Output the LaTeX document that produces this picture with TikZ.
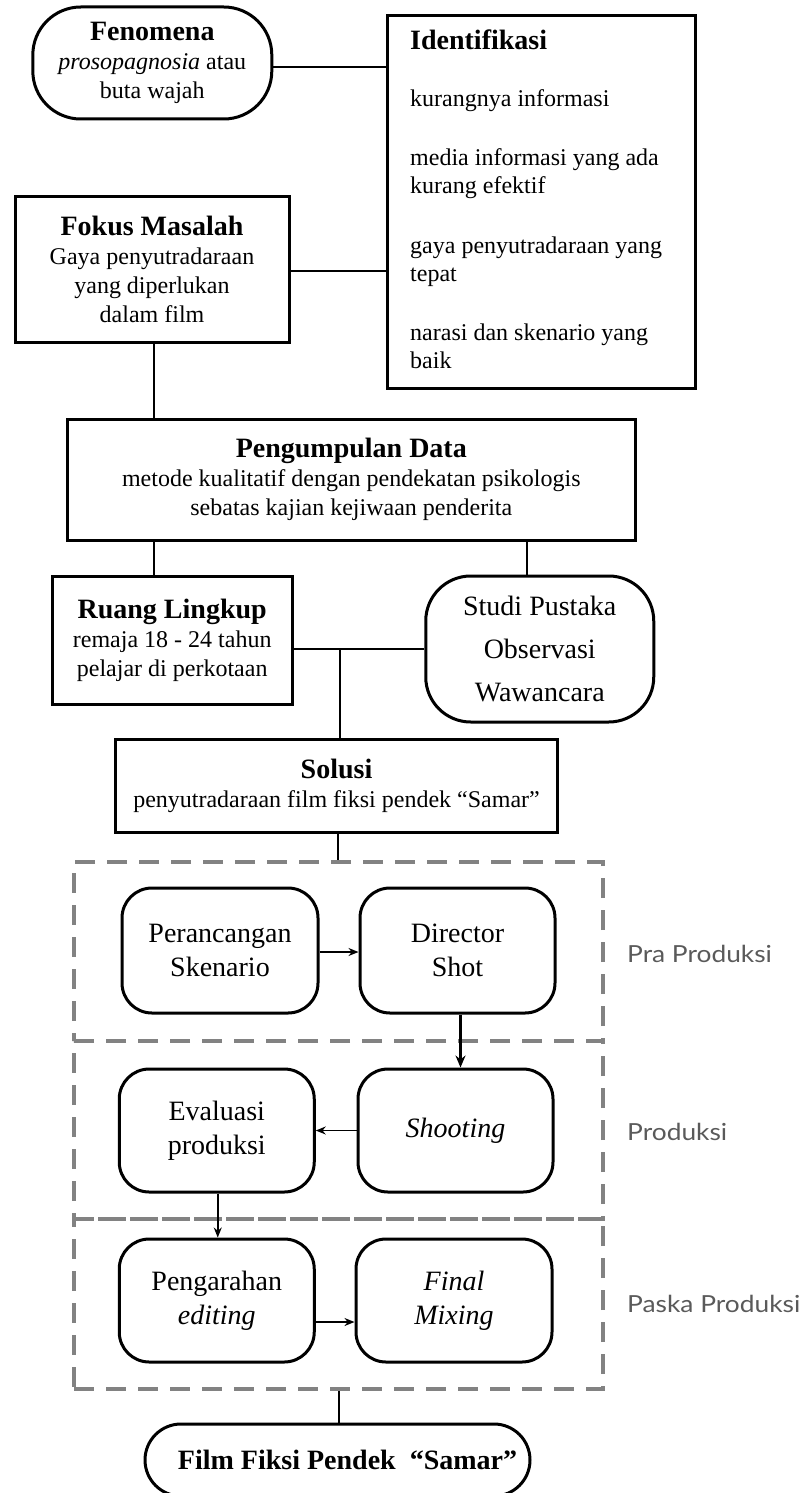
\documentclass[tikz,border=0pt]{standalone}
\usepackage{fontspec}
\setmainfont{Liberation Serif}
\newfontfamily\labelfont[FakeStretch=1.12]{Lato}
\usetikzlibrary{arrows.meta}
\definecolor{dashgray}{HTML}{828282}
\definecolor{labelgray}{HTML}{5A5A5A}
\newcommand\txtreg{\fontsize{24}{29}\selectfont}
\newcommand\txtbig{\fontsize{28}{34}\selectfont}
\newcommand\txtbold{\bfseries\fontsize{28}{29}\selectfont}
\tikzset{
  box/.style={draw, line width=3pt, rectangle, align=center, inner sep=0pt, font=\txtreg},
  rbox/.style={box, rounded corners=30pt, font=\txtbig},
  phase/.style={draw=dashgray, line width=4pt, dash pattern=on 20pt off 12pt, rectangle, inner sep=0pt},
  conn/.style={line width=2pt},
  arr/.style={line width=1.5pt, -{Stealth[length=10pt,width=8pt]}},
  bigarr/.style={line width=2.3pt, -{Stealth[length=12pt,width=10pt]}},
  lbl/.style={font=\labelfont\fontsize{23.5}{27}\selectfont, text=labelgray, anchor=base west, inner sep=0pt},
  itm/.style={font=\txtreg, anchor=base west, inner sep=0pt}
}
\begin{document}
\begin{tikzpicture}[x=1pt,y=-1pt]
\useasboundingbox (0,0) rectangle (804,1493);

% top section
\node[box, rounded corners=48pt, minimum width=239pt, minimum height=112pt] (fen) at (152.3,63)
  {{\txtbold Fenomena}\\ \textit{prosopagnosia} atau\\ buta wajah};
\node[box, minimum width=308pt, minimum height=372pt] (ident) at (541,202) {};
\node[itm, font=\txtbold] (i0) at (410,50) {Identifikasi};
\node[itm] (i1) at (410,107) {kurangnya informasi};
\node[itm] (i2) at (410,165) {media informasi yang ada};
\node[itm] (i3) at (410,193) {kurang efektif};
\node[itm] (i4) at (410,253) {gaya penyutradaraan yang};
\node[itm] (i5) at (410,281) {tepat};
\node[itm] (i6) at (410,340) {narasi dan skenario yang};
\node[itm] (i7) at (410,368) {baik};

\node[box, minimum width=274pt, minimum height=146pt] (fok) at (152,269)
  {{\txtbold Fokus Masalah}\\ Gaya penyutradaraan\\ yang diperlukan\\ dalam film};

\node[box, minimum width=568pt, minimum height=121pt] (peng) at (351.3,479.5)
  {{\txtbold Pengumpulan Data}\\ metode kualitatif dengan pendekatan psikologis\\ sebatas kajian kejiwaan penderita};

\node[box, minimum width=240pt, minimum height=128pt] (ruang) at (172.2,640)
  {{\txtbold Ruang Lingkup}\\ remaja 18 - 24 tahun\\ pelajar di perkotaan};

\node[box, rounded corners=45pt, minimum width=228pt, minimum height=146pt, font=\fontsize{28}{43}\selectfont] (studi) at (539.75,649)
  {Studi Pustaka\\ Observasi\\ Wawancara};

\node[box, minimum width=442pt, minimum height=93pt] (sol) at (336.5,785.5)
  {{\txtbold Solusi}\\ penyutradaraan film fiksi pendek “Samar”};

% phases
\node[phase, minimum width=529pt, minimum height=179pt] (pra) at (338.5,951.5) {};
\node[phase, minimum width=529pt, minimum height=178pt] (prod) at (338.5,1130) {};
\node[phase, minimum width=529pt, minimum height=170pt] (pasca) at (338.5,1304) {};

\node[lbl] (lpra) at (627,962) {Pra Produksi};
\node[lbl] (lprod) at (627,1140) {Produksi};
\node[lbl] (lpas) at (627,1312) {Paska Produksi};

\node[rbox, minimum width=196pt, minimum height=125pt] (pr) at (220,950.5) {Perancangan\\ Skenario};
\node[rbox, minimum width=195pt, minimum height=125pt] (dir) at (457.5,950.5) {Director\\ Shot};
\node[rbox, minimum width=195pt, minimum height=123pt] (ev) at (216.75,1130.5) {Evaluasi\\ produksi};
\node[rbox, minimum width=195pt, minimum height=123pt] (sh) at (455.5,1130.5) {\textit{Shooting}};
\node[rbox, minimum width=195pt, minimum height=123pt] (pg) at (216.75,1300.5) {Pengarahan\\ \textit{editing}};
\node[rbox, minimum width=196pt, minimum height=123pt] (fm) at (454,1300.5) {\textit{Final}\\ \textit{Mixing}};

\node[box, rounded corners=36pt, minimum width=385pt, minimum height=72pt, font=\bfseries\fontsize{28}{32}\selectfont] (film) at (337.5,1460)
  {\hspace{20pt}Film Fiksi Pendek\ \ “Samar”};

% connectors
\draw[conn] ([yshift=-4pt]fen.east) -- ([yshift=-4pt]fen.east -| ident.west);
\draw[conn] ([yshift=-2pt]fok.east) -- ([yshift=-2pt]fok.east -| ident.west);
\draw[conn] ([xshift=2pt]fok.south) -- ([xshift=2pt]fok.south |- peng.north);
\draw[conn] ([xshift=2pt]fok.south |- peng.south) -- ([xshift=2pt]fok.south |- ruang.north);
\draw[conn] ([xshift=-13pt]studi.north |- peng.south) -- ([xshift=-13pt]studi.north);
\draw[conn] (studi.west) -- (studi.west -| ruang.east);
\draw[conn] ([xshift=3.5pt]sol.north |- studi.west) -- ([xshift=3.5pt]sol.north);
\draw[conn] ([xshift=1.5pt]sol.south) -- ([xshift=1.5pt]sol.south |- pra.north);
\draw[conn] (pasca.south) -- (pasca.south |- film.north);

% arrows
\draw[arr] ([yshift=-1.5pt]pr.east) -- ([yshift=-1.5pt]pr.east -| dir.west);
\draw[bigarr] ([xshift=3pt]dir.south) -- ([xshift=3pt]dir.south |- sh.north);
\draw[arr] (sh.west) -- (sh.west -| ev.east);
\draw[arr] ([xshift=1pt]ev.south) -- ([xshift=1pt]ev.south |- pg.north);
\draw[arr] ([yshift=-21.5pt]pg.east) -- ([yshift=-21.5pt]pg.east -| fm.west);
\end{tikzpicture}
\end{document}
